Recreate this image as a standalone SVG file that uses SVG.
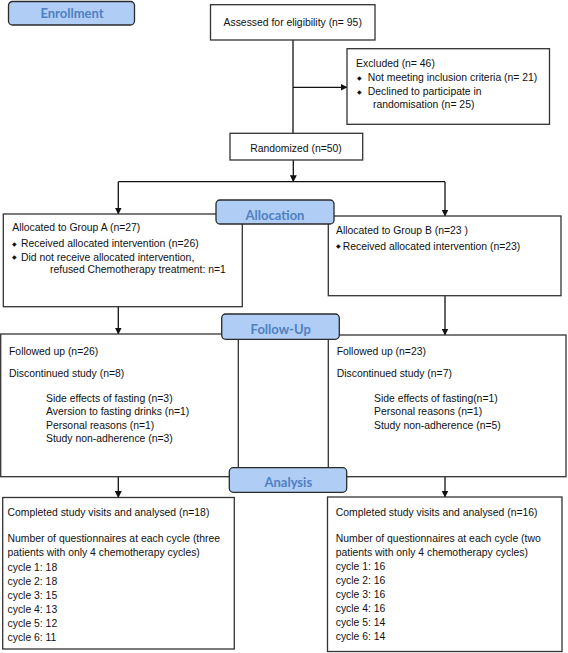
<svg xmlns="http://www.w3.org/2000/svg" width="568" height="653" viewBox="0 0 568 653">
<defs>
<marker id="arr" markerWidth="7" markerHeight="7" refX="6.5" refY="3.5" orient="auto" markerUnits="userSpaceOnUse">
<path d="M0,0 L7,3.5 L0,7 Z" fill="#111"/>
</marker>
<style>
.box{fill:#fff;stroke:#333;stroke-width:1.3}
.lbl{fill:#b0cdf6;stroke:#2a2a2a;stroke-width:1.3}
.lt{font-family:Lato,"Open Sans",sans-serif;font-weight:bold;font-size:13px;fill:#4f80c2;text-anchor:middle}
.t{font-family:"Liberation Sans",Arial,sans-serif;font-size:10.4px;fill:#111}
.c{text-anchor:middle}
.b{font-size:6px}
.ln{stroke:#111;stroke-width:1.3;fill:none}
.ar{marker-end:url(#arr)}
</style>
</defs>
<rect width="568" height="653" fill="#fff"/>

<g id="connectors">
<line class="ln" x1="293" y1="40" x2="293" y2="133.3"/>
<line class="ln ar" x1="293" y1="87.3" x2="347" y2="87.3"/>
<line class="ln ar" x1="293.3" y1="160" x2="293.3" y2="181.7"/>
<line class="ln" x1="118.3" y1="181.7" x2="445" y2="181.7"/>
<line class="ln ar" x1="118.3" y1="181.7" x2="118.3" y2="214"/>
<line class="ln ar" x1="445" y1="181.7" x2="445" y2="216"/>
<line class="ln ar" x1="118.3" y1="293.3" x2="118.3" y2="334"/>
<line class="ln ar" x1="445" y1="295.7" x2="445" y2="335"/>
<line class="ln ar" x1="118.3" y1="458" x2="118.3" y2="497.5"/>
<line class="ln ar" x1="445" y1="458" x2="445" y2="497"/>
</g>

<g id="assessed">
<rect class="box" x="210.5" y="4.7" width="164.5" height="35.3"/>
<text class="t c" x="292.7" y="26">Assessed for eligibility (n= 95)</text>
</g>

<g id="excluded">
<rect class="box" x="347" y="48.7" width="202.5" height="75.6"/>
<text class="t" x="356" y="67">Excluded (n= 46)</text>
<text class="t b" x="356.5" y="79.5">◆</text>
<text class="t" x="367.8" y="81">Not meeting inclusion criteria (n= 21)</text>
<text class="t b" x="356.5" y="93.5">◆</text>
<text class="t" x="367.8" y="95">Declined to participate in</text>
<text class="t" x="373" y="108.4">randomisation (n= 25)</text>
</g>

<g id="randomized">
<rect class="box" x="230" y="133.3" width="132.7" height="26.7"/>
<text class="t c" x="296" y="151.7">Randomized (n=50)</text>
</g>

<g id="groupA-alloc">
<rect class="box" x="3.3" y="214" width="239" height="92.7"/>
<text class="t" x="12.3" y="231.2">Allocated to Group A (n=27)</text>
<text class="t b" x="11.5" y="245.7">◆</text>
<text class="t" x="21" y="247.2">Received allocated intervention (n=26)</text>
<text class="t b" x="11.5" y="259.2">◆</text>
<text class="t" x="21" y="260.7">Did not receive allocated intervention,</text>
<text class="t" x="50" y="273.2">refused Chemotherapy treatment: n=1</text>
</g>

<g id="groupB-alloc">
<rect class="box" x="328.3" y="216" width="232.7" height="79.7"/>
<text class="t" x="336" y="233.9">Allocated to Group B (n=23 )</text>
<text class="t b" x="335.5" y="248.2">◆</text>
<text class="t" x="342.7" y="249.7">Received allocated intervention (n=23)</text>
</g>

<g id="groupA-followup">
<rect class="box" x="0.7" y="334" width="237.6" height="142.7"/>
<text class="t" x="9" y="355.2">Followed up (n=26)</text>
<text class="t" x="9" y="377.2">Discontinued study (n=8)</text>
<text class="t" x="46" y="402">Side effects of fasting (n=3)</text>
<text class="t" x="46" y="415.4">Aversion to fasting drinks (n=1)</text>
<text class="t" x="46" y="428.7">Personal reasons (n=1)</text>
<text class="t" x="46" y="442.2">Study non-adherence (n=3)</text>
</g>

<g id="groupB-followup">
<rect class="box" x="328.3" y="335" width="237.7" height="141.7"/>
<text class="t" x="336.7" y="355.2">Followed up (n=23)</text>
<text class="t" x="336.7" y="377.2">Discontinued study (n=7)</text>
<text class="t" x="374" y="402">Side effects of fasting(n=1)</text>
<text class="t" x="374" y="415.4">Personal reasons (n=1)</text>
<text class="t" x="374" y="428.7">Study non-adherence (n=5)</text>
</g>

<g id="groupA-analysis">
<rect class="box" x="2.7" y="497.5" width="231.6" height="151.5"/>
<text class="t" x="7.5" y="515.7">Completed study visits and analysed (n=18)</text>
<text class="t" x="7.5" y="541.7">Number of questionnaires at each cycle (three</text>
<text class="t" x="7.5" y="555.7">patients with only 4 chemotherapy cycles)</text>
<text class="t" x="7.5" y="570.7">cycle 1: 18</text>
<text class="t" x="7.5" y="584.7">cycle 2: 18</text>
<text class="t" x="7.5" y="598.7">cycle 3: 15</text>
<text class="t" x="7.5" y="612.7">cycle 4: 13</text>
<text class="t" x="7.5" y="626.7">cycle 5: 12</text>
<text class="t" x="7.5" y="640.7">cycle 6: 11</text>
</g>

<g id="groupB-analysis">
<rect class="box" x="327.5" y="497" width="234.5" height="154.5"/>
<text class="t" x="335.7" y="515.7">Completed study visits and analysed (n=16)</text>
<text class="t" x="335.7" y="541.7">Number of questionnaires at each cycle (two</text>
<text class="t" x="335.7" y="555.7">patients with only 4 chemotherapy cycles)</text>
<text class="t" x="335.7" y="570.4">cycle 1: 16</text>
<text class="t" x="335.7" y="584.2">cycle 2: 16</text>
<text class="t" x="335.7" y="598.2">cycle 3: 16</text>
<text class="t" x="335.7" y="612.2">cycle 4: 16</text>
<text class="t" x="335.7" y="625.7">cycle 5: 14</text>
<text class="t" x="335.7" y="639.7">cycle 6: 14</text>
</g>

<g id="label-enrollment">
<rect class="lbl" x="8.5" y="1.5" width="126" height="23.5" rx="4"/>
<text class="lt" x="72" y="18">Enrollment</text>
</g>
<g id="label-allocation">
<rect class="lbl" x="216" y="200" width="118" height="24" rx="4"/>
<text class="lt" x="275" y="219.5">Allocation</text>
</g>
<g id="label-followup">
<rect class="lbl" x="221.7" y="314" width="117.6" height="25.3" rx="4"/>
<text class="lt" x="280.7" y="334">Follow-Up</text>
</g>
<g id="label-analysis">
<rect class="lbl" x="229.3" y="467.7" width="117.4" height="24.6" rx="4"/>
<text class="lt" x="288.3" y="487">Analysis</text>
</g>
</svg>
